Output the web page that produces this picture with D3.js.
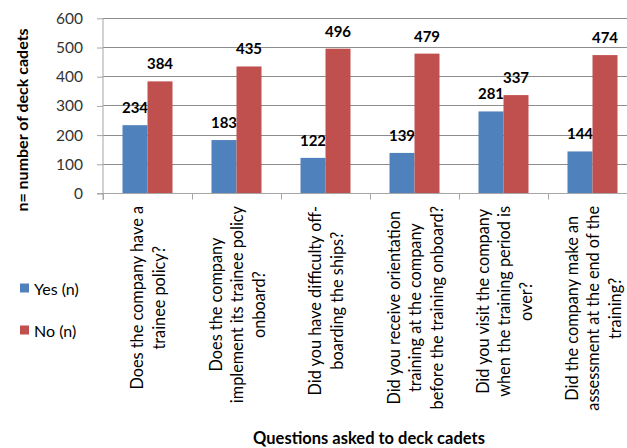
<!DOCTYPE html>
<html><head><meta charset="utf-8">
<script src="https://cdn.jsdelivr.net/npm/d3@7"></script>
<style>body{margin:0;background:#fff}svg{display:block}</style>
</head><body>
<svg id="c" width="627" height="448"></svg>
<script>
const categories = [
  ["Does the company have a","trainee policy?"],
  ["Does the company","implement its trainee policy","onboard?"],
  ["Did you have difficulty off-","boarding the ships?"],
  ["Did you receive orientation","training at the company","before the training onboard?"],
  ["Did you visit the company","when the training period is","over?"],
  ["Did the company make an","assessment at the end of the","training?"]
];
const seriesNames = ["Yes (n)","No (n)"];
const yesValues = [234,183,122,139,281,144];
const noValues = [384,435,496,479,337,474];
const yTicks = [0,100,200,300,400,500,600];
const colors = ["#4F81BD","#C0504D"];
const yTitle = "n= number of deck cadets";
const xTitle = "Questions asked to deck cadets";

const font = "Lato, 'Open Sans', sans-serif";
const svg = d3.select("#c");
const ids = categories.map((d,i)=>i);
const x0 = d3.scaleBand().domain(ids).range([103,637]);
const x1 = d3.scaleBand().domain([0,1]).range([0,x0.bandwidth()]).paddingOuter(0.78);
const y = d3.scaleLinear().domain([0,600]).range([193.5,18.3]);

// gridlines
svg.append("g").selectAll("line").data(yTicks.filter(t=>t>0)).join("line")
  .attr("x1",103).attr("x2",637).attr("y1",d=>y(d)).attr("y2",d=>y(d))
  .attr("stroke","#8c8c8c").attr("stroke-width",1).attr("shape-rendering","crispEdges");

// bars
const series = [yesValues,noValues];
const g = svg.append("g");
series.forEach((vals,s)=>{
  g.selectAll(".b"+s).data(vals).join("rect")
    .attr("x",(d,i)=>x0(i)+x1(s)).attr("width",x1.bandwidth())
    .attr("y",d=>y(d)).attr("height",d=>y(0)-y(d)).attr("fill",colors[s]);
  g.selectAll(".l"+s).data(vals).join("text")
    .attr("x",(d,i)=>x0(i)+x1(s)+x1.bandwidth()/2).attr("y",d=>y(d)-12)
    .attr("text-anchor","middle").attr("font-family",font).attr("font-weight","bold")
    .attr("font-size",15).attr("fill","#000").text(d=>d);
});

// axes
const ya = d3.axisLeft(y).tickValues(yTicks).tickSize(6).tickPadding(14);
const yg = svg.append("g").attr("transform","translate(103,0)").call(ya);
yg.select(".domain").attr("d","M0,"+y(600)+"V200").attr("stroke","#a6a6a6");
yg.selectAll(".tick line").attr("stroke","#a6a6a6");
yg.selectAll(".tick text").attr("font-family",font).attr("font-size",15.5).attr("fill","#333");

const xa = d3.axisBottom(d3.scaleLinear().domain([0,6]).range([103,637])).tickValues(d3.range(7)).tickSize(6).tickFormat("");
const xg = svg.append("g").attr("transform","translate(0,"+y(0)+")").call(xa);
xg.select(".domain").attr("d","M97,0H637").attr("stroke","#a6a6a6");
xg.selectAll(".tick line").attr("stroke","#a6a6a6");

// category labels
categories.forEach((lines,i)=>{
  const cx = x0(i)+x0.bandwidth()/2;
  const n = lines.length;
  const tg = svg.append("g");
  const ts = tg.selectAll("text").data(lines).join("text")
    .attr("font-family",font).attr("font-size",16.3).attr("fill","#000")
    .attr("text-anchor","middle").attr("dominant-baseline","central").text(d=>d);
  let maxW = 0; ts.each(function(){maxW=Math.max(maxW,this.getComputedTextLength());});
  const cy = 206 + maxW/2;
  ts.attr("transform",(d,j)=>"translate("+(cx+(j-(n-1)/2)*21.5)+","+cy+") rotate(-90)");
});

// legend
seriesNames.forEach((name,s)=>{
  const ly = 288 + s*42;
  svg.append("rect").attr("x",20).attr("y",ly-4.5).attr("width",9).attr("height",9).attr("fill",colors[s]);
  svg.append("text").attr("x",34).attr("y",ly).attr("dominant-baseline","central")
    .attr("font-family",font).attr("font-size",16).attr("fill","#000").text(name);
});

// titles
svg.append("text").attr("transform","translate(21,120) rotate(-90)").attr("text-anchor","middle")
  .attr("dominant-baseline","central").attr("font-family",font).attr("font-weight","bold")
  .attr("font-size",16).text(yTitle);
svg.append("text").attr("x",369).attr("y",444).attr("text-anchor","middle")
  .attr("font-family",font).attr("font-weight","bold").attr("font-size",16.5).text(xTitle);
</script>
</body></html>
